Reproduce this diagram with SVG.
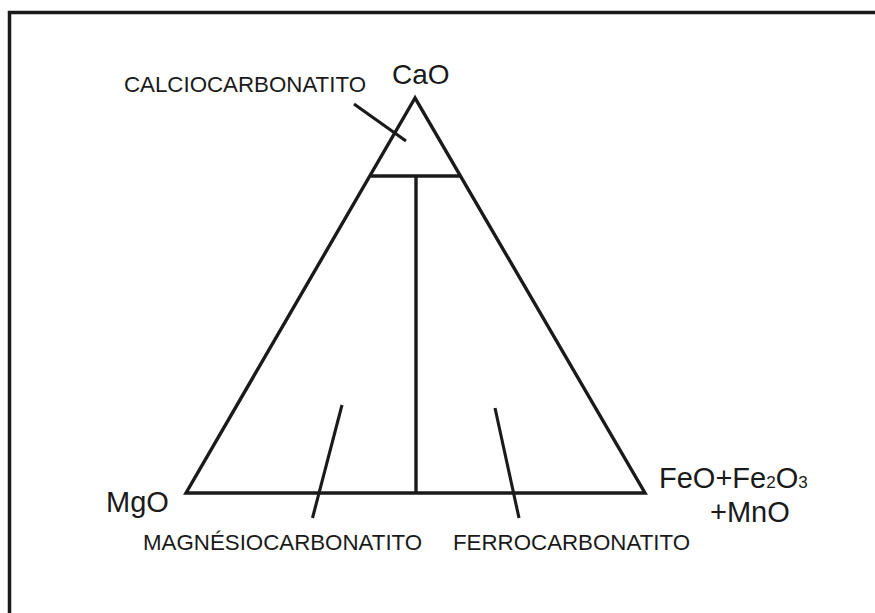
<svg xmlns="http://www.w3.org/2000/svg" width="875" height="613" viewBox="0 0 875 613">
<style>
.ln{fill:none;stroke:#1a1a1a;stroke-width:3.4;stroke-linecap:butt;stroke-linejoin:miter}
.ld{fill:none;stroke:#1a1a1a;stroke-width:3.1}
.t{font-family:"Liberation Sans",Arial,sans-serif;fill:#1a1a1a}
.big{font-size:29px}
.sm{font-size:22.3px}
</style>
<rect width="875" height="613" fill="#ffffff"/>
<path id="frame" d="M9.5,613 V12.5 H875" fill="none" stroke="#1a1a1a" stroke-width="3.5"/>
<g id="triangle">
<path class="ln" d="M415,98 L186,493 L645,493 Z"/>
</g>
<g id="connectors">
<line class="ln" x1="371" y1="176" x2="460" y2="176"/>
<line class="ln" x1="416" y1="176" x2="416" y2="493"/>
<line class="ld" x1="354" y1="104" x2="406" y2="141"/>
<line class="ld" x1="342" y1="405" x2="312.5" y2="518"/>
<line class="ld" x1="495" y1="408" x2="519" y2="518"/>
</g>
<g id="CaO"><text class="t" font-size="28" x="392" y="84">CaO</text></g>
<g id="MgO"><text class="t big" x="106" y="512">MgO</text></g>
<g id="FeO"><text class="t big" x="659" y="488">FeO+Fe<tspan font-size="17">2</tspan>O<tspan font-size="17">3</tspan></text>
<text class="t big" x="710" y="522">+MnO</text></g>
<g id="calcio"><text class="t sm" x="124" y="92">CALCIOCARBONATITO</text></g>
<g id="magnesio"><text class="t sm" x="143" y="550">MAGNÉSIOCARBONATITO</text></g>
<g id="ferro"><text class="t sm" x="453" y="550">FERROCARBONATITO</text></g>
</svg>
